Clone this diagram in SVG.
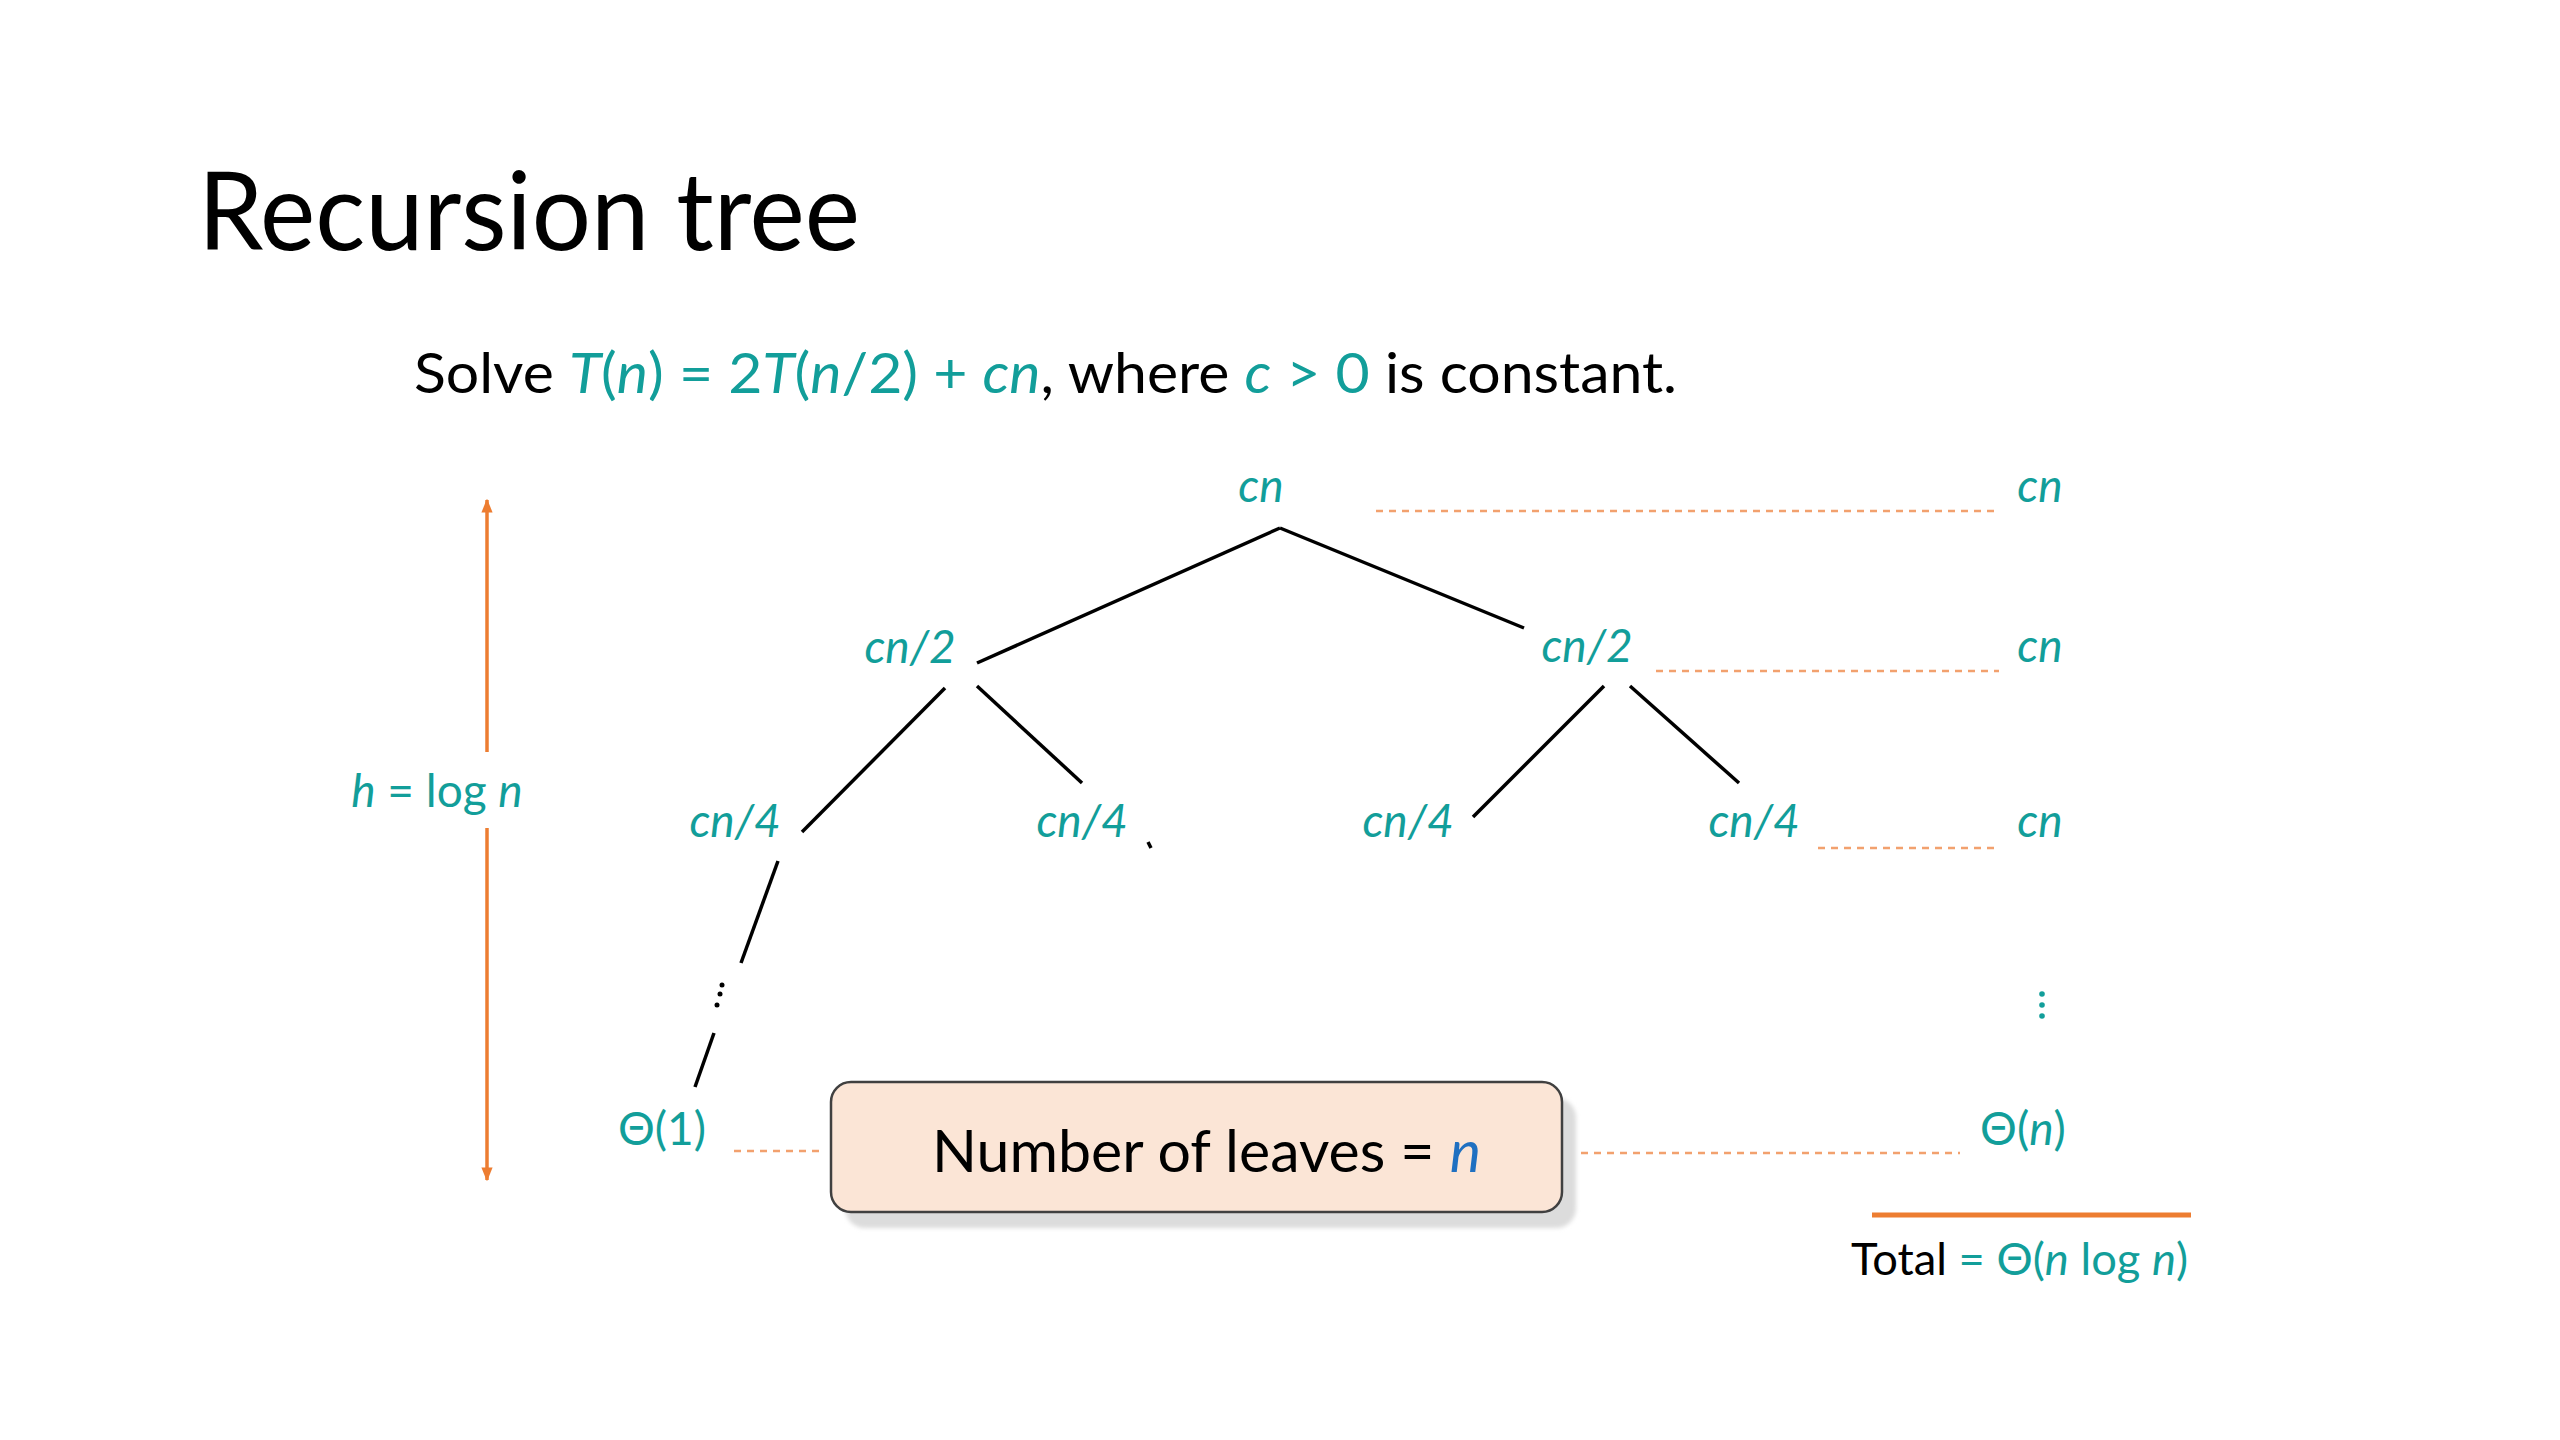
<svg xmlns="http://www.w3.org/2000/svg" width="2560" height="1440" viewBox="0 0 2560 1440">
<defs>
<style>
.t{font-family:Lato,'Liberation Sans','DejaVu Sans',sans-serif;}
.lbl{font-family:Lato,'Liberation Sans','DejaVu Sans',sans-serif;font-size:46px;fill:#129e9a;font-style:italic;text-anchor:middle;}
.up{font-style:normal;}
.teal{fill:#129e9a;}
.it{font-style:italic;}
.edge{stroke:#000;stroke-width:3.5;fill:none;stroke-linecap:butt;}
.dash{stroke:#f2a16e;stroke-width:2.5;stroke-dasharray:7 6;fill:none;}
.orange{stroke:#ed7d31;stroke-width:3.5;fill:none;}
</style>
<marker id="ah" viewBox="0 0 10 10" refX="9" refY="5" markerWidth="4" markerHeight="4" orient="auto-start-reverse" markerUnits="strokeWidth">
<path d="M0,1 L10,5 L0,9 Z" fill="#ed7d31"/>
</marker>
<filter id="sh" x="-10%" y="-10%" width="130%" height="140%">
<feGaussianBlur stdDeviation="2"/>
</filter>
</defs>
<rect width="2560" height="1440" fill="#fff"/>

<g id="title">
<text class="t" x="198" y="250" font-size="108" fill="#000" textLength="662" lengthAdjust="spacingAndGlyphs">Recursion tree</text>
</g>
<g id="subtitle">
<text class="t" x="414" y="393" font-size="56" fill="#000" textLength="1263" lengthAdjust="spacingAndGlyphs">Solve <tspan class="teal"><tspan class="it">T</tspan>(<tspan class="it">n</tspan>) = 2<tspan class="it">T</tspan>(<tspan class="it">n</tspan>/2) + <tspan class="it">cn</tspan></tspan>, where <tspan class="teal"><tspan class="it">c</tspan> &gt; 0</tspan> is constant.</text>
</g>

<g id="connectors">
<line class="edge" x1="1280" y1="528" x2="977" y2="663"/>
<line class="edge" x1="1280" y1="528" x2="1524" y2="628"/>
<line class="edge" x1="945" y1="688" x2="802" y2="832"/>
<line class="edge" x1="977" y1="686" x2="1082" y2="783"/>
<line class="edge" x1="1604" y1="686" x2="1473" y2="817"/>
<line class="edge" x1="1630" y1="686" x2="1739" y2="783"/>
<line class="edge" x1="1148" y1="842" x2="1151" y2="848"/>
<line class="edge" x1="778" y1="861" x2="741" y2="963"/>
<line class="edge" x1="714" y1="1033" x2="695" y2="1087"/>
<circle cx="722" cy="985" r="2.5" fill="#000"/>
<circle cx="720" cy="994" r="2.5" fill="#000"/>
<circle cx="717" cy="1005" r="2.5" fill="#000"/>
<line class="dash" x1="1376" y1="511" x2="1999" y2="511"/>
<line class="dash" x1="1656" y1="671" x2="1999" y2="671"/>
<line class="dash" x1="1818" y1="848" x2="1994" y2="848"/>
<line class="dash" x1="734" y1="1151" x2="825" y2="1151"/>
<line class="dash" x1="1581" y1="1153" x2="1960" y2="1153"/>
<line class="orange" x1="487" y1="752" x2="487" y2="500" marker-end="url(#ah)"/>
<line class="orange" x1="487" y1="828" x2="487" y2="1180" marker-end="url(#ah)"/>
<line x1="1872" y1="1215" x2="2191" y2="1215" stroke="#ed7d31" stroke-width="5"/>
</g>

<g id="node-root"><text class="lbl" x="1261" y="502">cn</text></g>
<g id="node-l1a"><text class="lbl" x="910" y="663">cn/2</text></g>
<g id="node-l1b"><text class="lbl" x="1587" y="662">cn/2</text></g>
<g id="node-l2a"><text class="lbl" x="735" y="837">cn/4</text></g>
<g id="node-l2b"><text class="lbl" x="1082" y="837">cn/4</text></g>
<g id="node-l2c"><text class="lbl" x="1408" y="837">cn/4</text></g>
<g id="node-l2d"><text class="lbl" x="1754" y="837">cn/4</text></g>
<g id="node-leaf"><text class="lbl" x="662" y="1145"><tspan class="up">Θ(1)</tspan></text></g>

<g id="sum-1"><text class="lbl" x="2040" y="502">cn</text></g>
<g id="sum-2"><text class="lbl" x="2040" y="662">cn</text></g>
<g id="sum-3"><text class="lbl" x="2040" y="837">cn</text></g>
<g id="sum-dots">
<circle cx="2042" cy="994" r="2.8" fill="#129e9a"/>
<circle cx="2042" cy="1005" r="2.8" fill="#129e9a"/>
<circle cx="2042" cy="1016" r="2.8" fill="#129e9a"/>
</g>
<g id="sum-leaves"><text class="lbl" x="2023" y="1145"><tspan class="up">Θ(</tspan>n<tspan class="up">)</tspan></text></g>

<g id="height-label"><text class="lbl" x="437" y="807">h<tspan class="up"> = log </tspan>n</text></g>

<g id="leaves-box">
<rect x="845" y="1098" width="731" height="130" rx="20" fill="#dcdcdc" filter="url(#sh)"/>
<rect x="831" y="1082" width="731" height="130" rx="20" fill="#fbe5d6" stroke="#404040" stroke-width="2.5"/>
<text class="t" x="932" y="1172" font-size="58" fill="#000" textLength="549" lengthAdjust="spacingAndGlyphs">Number of leaves = <tspan class="it" fill="#1f70c1">n</tspan></text>
</g>

<g id="total">
<text class="t" x="1851" y="1275" font-size="44" fill="#000" textLength="337" lengthAdjust="spacingAndGlyphs">Total <tspan class="teal">= Θ(<tspan class="it">n</tspan> log <tspan class="it">n</tspan>)</tspan></text>
</g>
</svg>
